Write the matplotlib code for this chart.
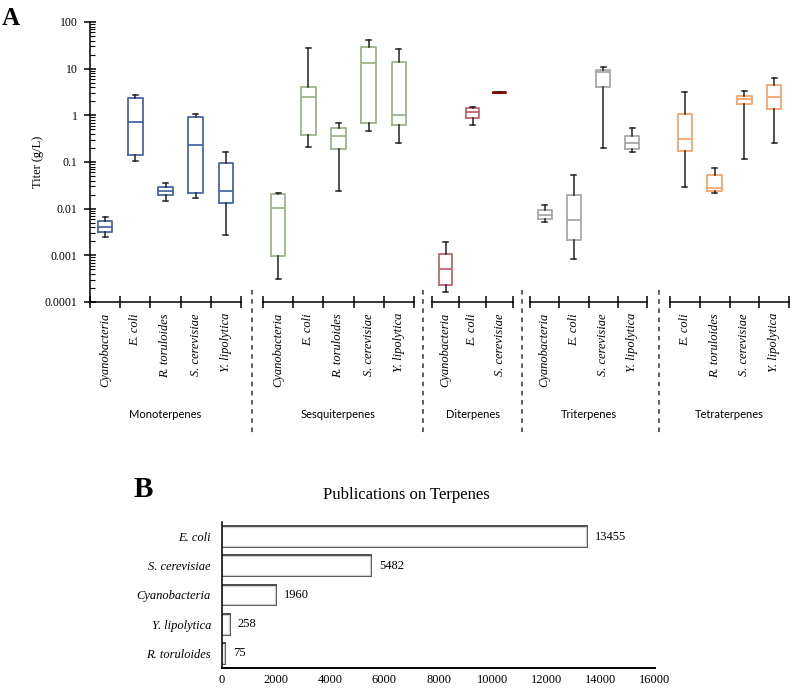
import numpy as np
import matplotlib.pyplot as plt
from matplotlib.lines import Line2D
from matplotlib.ticker import LogLocator, NullFormatter, FixedLocator

plt.rcParams['font.family'] = ['Liberation Serif', 'DejaVu Serif']

# ---- panel A data: [whisker low, Q1, median, Q3, whisker high] in g/L
groups = ['Monoterpenes', 'Sesquiterpenes', 'Diterpenes', 'Triterpenes', 'Tetraterpenes']

mono_orgs = ['Cyanobacteria', 'E. coli', 'R. toruloides', 'S. cerevisiae', 'Y. lipolytica']
mono_stats = [[0.00248, 0.00318, 0.00406, 0.00553, 0.00665],
              [0.103, 0.144, 0.72, 2.31, 2.74],
              [0.0149, 0.0193, 0.0244, 0.0296, 0.0349],
              [0.0172, 0.0221, 0.228, 0.92, 1.09],
              [0.00274, 0.0133, 0.024, 0.0937, 0.161]]

sesq_orgs = ['Cyanobacteria', 'E. coli', 'R. toruloides', 'S. cerevisiae', 'Y. lipolytica']
sesq_stats = [[0.000306, 0.00097, 0.0105, 0.0207, 0.0221],
              [0.213, 0.38, 2.52, 4.06, 27.3],
              [0.024, 0.187, 0.362, 0.526, 0.687],
              [0.47, 0.674, 13.0, 28.6, 40.4],
              [0.26, 0.62, 1.0, 13.7, 26.0]]

di_orgs = ['Cyanobacteria', 'E. coli', 'S. cerevisiae']
di_stats = [[0.000167, 0.000236, 0.000512, 0.00105, 0.00197],
            [0.62, 0.89, 1.2, 1.44, 1.48],
            [2.98, 3.0, 3.08, 3.15, 3.18]]

tri_orgs = ['Cyanobacteria', 'E. coli', 'S. cerevisiae', 'Y. lipolytica']
tri_stats = [[0.0051, 0.006, 0.00745, 0.0095, 0.012],
             [0.00085, 0.00217, 0.00574, 0.0193, 0.0518],
             [0.203, 3.98, 8.3, 9.5, 10.9],
             [0.161, 0.193, 0.256, 0.362, 0.537]]

tetra_orgs = ['E. coli', 'R. toruloides', 'S. cerevisiae', 'Y. lipolytica']
tetra_stats = [[0.0287, 0.175, 0.312, 1.09, 3.17],
               [0.0213, 0.024, 0.0278, 0.0518, 0.0757],
               [0.114, 1.75, 2.28, 2.64, 3.38],
               [0.26, 1.39, 2.52, 4.48, 6.42]]

group_orgs = [mono_orgs, sesq_orgs, di_orgs, tri_orgs, tetra_orgs]
group_stats = [mono_stats, sesq_stats, di_stats, tri_stats, tetra_stats]
group_colors = [['#4a68a6'] * 5,
                ['#9bb48a'] * 5,
                ['#c0646c', '#c0646c', '#8b0a0a'],
                ['#a8a8a8'] * 4,
                ['#f4a66c'] * 4]

# ---- panel B data
pub_orgs = ['E. coli', 'S. cerevisiae', 'Cyanobacteria', 'Y. lipolytica', 'R. toruloides']
pub_counts = [13455, 5482, 1960, 258, 75]

W, H = 800, 688
fig = plt.figure(figsize=(8, 6.88), dpi=100)


def px_axes(x0, x1, y0, y1):
    return fig.add_axes([x0 / W, 1 - y1 / H, (x1 - x0) / W, (y1 - y0) / H])


# pixel extents of each group's axis segment
seg_x = [(90, 241), (263, 414), (432, 513), (530, 647), (670, 789)]
axes_a = []
for gi, (name, orgs, stats, cols) in enumerate(zip(groups, group_orgs, group_stats, group_colors)):
    ax = px_axes(seg_x[gi][0], seg_x[gi][1], 22, 302)
    axes_a.append(ax)
    n = len(orgs)
    bstats = [dict(whislo=s[0], q1=s[1], med=s[2], q3=s[3], whishi=s[4], fliers=[]) for s in stats]
    for i, (bs, c) in enumerate(zip(bstats, cols)):
        ax.bxp([bs], positions=[i + 1], widths=0.48, showfliers=False, capwidths=0.17,
               boxprops=dict(color=c, linewidth=1.3),
               medianprops=dict(color=c, linewidth=1.3),
               whiskerprops=dict(color='#222222', linewidth=1.1),
               capprops=dict(color='#222222', linewidth=1.1))
    ax.set_yscale('log')
    ax.set_ylim(1e-4, 100)
    ax.set_xlim(0.5, n + 0.5)
    for sp in ['top', 'right']:
        ax.spines[sp].set_visible(False)
    ax.spines['bottom'].set_linewidth(1.1)
    ax.xaxis.set_major_locator(FixedLocator(np.arange(n + 1) + 0.5))
    ax.xaxis.set_minor_locator(FixedLocator(np.arange(1, n + 1)))
    ax.set_xticklabels([], minor=False)
    ax.set_xticklabels(orgs, minor=True, rotation=90, style='italic', fontsize=9)
    ax.tick_params(axis='x', which='major', direction='inout', length=8, width=1.1)
    ax.tick_params(axis='x', which='minor', length=0, pad=8)
    ax.text(0.5, (302 - 415) / 280, name, transform=ax.transAxes, ha='center', va='center',
            fontsize=8, family=['Lato', 'DejaVu Sans'])
    if gi == 0:
        ax.spines['left'].set_linewidth(1.1)
        ax.yaxis.set_minor_locator(LogLocator(base=10, subs=np.arange(2, 10), numticks=10))
        ax.yaxis.set_minor_formatter(NullFormatter())
        ax.set_yticks([1e-4, 1e-3, 1e-2, 1e-1, 1, 10, 100])
        ax.set_yticklabels(['0.0001', '0.001', '0.01', '0.1', '1', '10', '100'], fontsize=8.5)
        ax.tick_params(axis='y', which='major', direction='inout', length=8, width=1.1, pad=5)
        ax.tick_params(axis='y', which='minor', direction='in', length=3.5, width=0.8)
    else:
        ax.spines['left'].set_visible(False)
        ax.tick_params(axis='y', which='both', left=False, labelleft=False)

fig.text(38 / W, 1 - 162 / H, 'Titer (g/L)', rotation=90, ha='center', va='center', fontsize=9)

# dashed separators between groups
for a, b in zip(axes_a[:-1], axes_a[1:]):
    xm = (a.get_position().x1 + b.get_position().x0) / 2
    fig.add_artist(Line2D([xm, xm], [1 - 290 / H, 1 - 433 / H], transform=fig.transFigure,
                          color='#333333', linestyle=(0, (3, 3)), linewidth=1.1))

fig.text(2 / W, 1 - 7 / H, 'A', fontsize=18, fontweight='bold', va='top', ha='left')

# ---- panel B
axb = px_axes(222, 655, 522, 668)
ypos = np.arange(len(pub_orgs))[::-1]
axb.barh(ypos, pub_counts, height=0.64, color='white', edgecolor='#444444', linewidth=2.8)
axb.barh(ypos, pub_counts, height=0.64, color='white', edgecolor='#d0d0d0', linewidth=0.9)
for y, v in zip(ypos, pub_counts):
    axb.text(v + 330, y, str(v), va='center', ha='left', fontsize=9)
axb.set_xlim(0, 16000)
axb.set_ylim(-0.5, 4.5)
axb.set_xticks(np.arange(0, 16001, 2000))
axb.set_yticks(ypos)
axb.set_yticklabels(pub_orgs, style='italic', fontsize=9)
axb.tick_params(axis='both', length=0, labelsize=9)
axb.tick_params(axis='x', pad=4)
axb.tick_params(axis='y', pad=8)
for sp in ['top', 'right']:
    axb.spines[sp].set_visible(False)
axb.spines['bottom'].set_linewidth(1.4)
axb.spines['left'].set_linewidth(1.1)

fig.text(406 / W, 1 - 495 / H, 'Publications on Terpenes', ha='center', va='center', fontsize=12)
fig.text(134 / W, 1 - 476 / H, 'B', fontsize=21, fontweight='bold', va='top', ha='left')

fig.savefig('out.png', dpi=100)
